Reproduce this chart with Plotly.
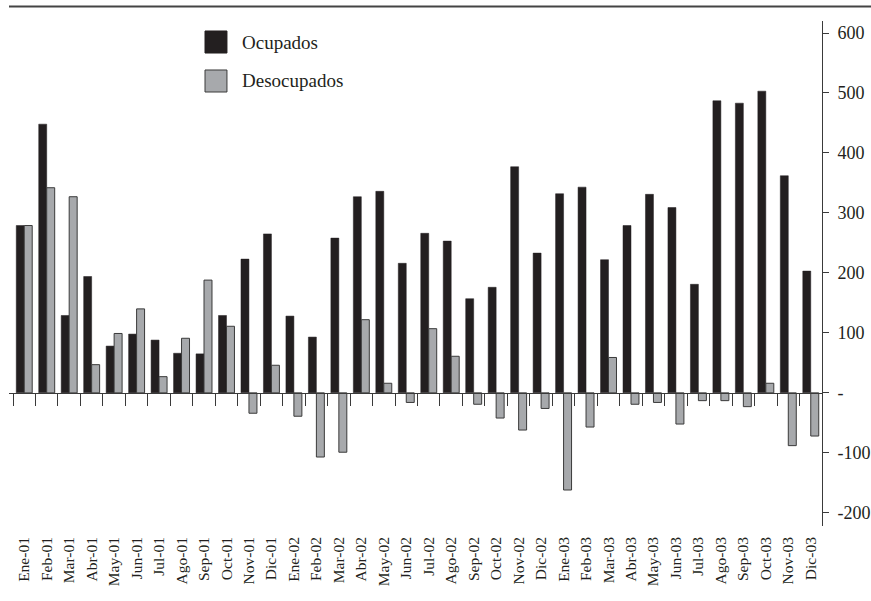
import plotly.graph_objects as go

meses = ["Ene-01","Feb-01","Mar-01","Abr-01","May-01","Jun-01","Jul-01","Ago-01","Sep-01","Oct-01","Nov-01","Dic-01",
         "Ene-02","Feb-02","Mar-02","Abr-02","May-02","Jun-02","Jul-02","Ago-02","Sep-02","Oct-02","Nov-02","Dic-02",
         "Ene-03","Feb-03","Mar-03","Abr-03","May-03","Jun-03","Jul-03","Ago-03","Sep-03","Oct-03","Nov-03","Dic-03"]
ocupados = [279, 448, 129, 194, 78, 98, 88, 66, 65, 129, 223, 265,
            128, 93, 258, 327, 336, 216, 266, 253, 157, 176, 377, 233,
            332, 343, 222, 279, 331, 309, 181, 487, 483, 503, 362, 203]
desocupados = [279, 342, 327, 47, 99, 140, 27, 91, 188, 111, -34, 46,
               -39, -107, -99, 122, 16, -16, 107, 61, -19, -42, -62, -26,
               -162, -57, 59, -19, -16, -52, -13, -13, -23, 16, -88, -72]
y_ticks = [600, 500, 400, 300, 200, 100, 0, -100, -200]
y_ticktext = ["600", "500", "400", "300", "200", "100", "-", "-100", "-200"]

idx = list(range(len(meses)))
FONT = "Liberation Serif"
TXT = "#231f20"

fig = go.Figure()
fig.add_trace(go.Bar(x=idx, y=ocupados, name="Ocupados",
                     marker=dict(color="#231f20", line=dict(color="#231f20", width=0.5))))
fig.add_trace(go.Bar(x=idx, y=desocupados, name="Desocupados",
                     marker=dict(color="#a7a9ac", line=dict(color="#3a3a3a", width=1))))
# invisible trace to activate the zero-line axis
fig.add_trace(go.Scatter(x=[idx[0]], y=[0], xaxis="x2", mode="markers",
                         marker=dict(opacity=0), showlegend=False, hoverinfo="skip"))

yr = [-222, 620]
zero_pos = (0 - yr[0]) / (yr[1] - yr[0])
xr = [-0.678, len(meses) - 0.5]

fig.update_layout(
    width=871, height=601,
    margin=dict(l=9, r=49, t=21, b=75, autoexpand=False),
    paper_bgcolor="white", plot_bgcolor="white",
    barmode="group", bargap=0.29, bargroupgap=0,
    showlegend=False,
    font=dict(family=FONT, color=TXT),
    xaxis=dict(range=xr, tickmode="array", tickvals=idx, ticktext=meses,
               tickangle=-90, tickfont=dict(size=15.5, family=FONT, color=TXT),
               showgrid=False, zeroline=False, showline=False, ticks="",
               ticklabelstandoff=7),
    xaxis2=dict(range=xr, overlaying="x", anchor="free", position=zero_pos,
                showline=True, linecolor="#3a3a3a", linewidth=1,
                tickmode="array", tickvals=[i - 0.5 for i in range(len(meses) + 1)],
                ticks="outside", ticklen=12, tickcolor="#3a3a3a", tickwidth=1,
                showticklabels=False, showgrid=False, zeroline=False),
    yaxis=dict(range=yr, side="right", tickmode="array", tickvals=y_ticks, ticktext=y_ticktext,
               tickfont=dict(size=18, family=FONT, color=TXT),
               showline=True, linecolor="#3a3a3a", linewidth=1,
               ticks="outside", ticklen=6, tickcolor="#3a3a3a",
               showgrid=False, zeroline=False, ticklabelstandoff=5),
)

# top rule
fig.add_shape(type="line", xref="paper", yref="paper", x0=0, x1=1.07, y0=1.0287, y1=1.0287,
              line=dict(color="#444444", width=2))

# legend drawn manually (large squares)
leg = [("Ocupados", "#231f20", "#231f20", 0.9802, 0.9366, 0.9584),
       ("Desocupados", "#a7a9ac", "#3a3a3a", 0.9030, 0.8594, 0.8812)]
for name, fill, edge, ytop, ybot, ymid in leg:
    fig.add_shape(type="rect", xref="paper", yref="paper", x0=0.2411, x1=0.2681, y0=ybot, y1=ytop,
                  fillcolor=fill, line=dict(color=edge, width=1))
    fig.add_annotation(xref="paper", yref="paper", x=0.2841, y=ymid, text=name, showarrow=False,
                       xanchor="left", yanchor="middle", font=dict(size=19, family=FONT, color=TXT))

fig.write_html("out.html", config={"displayModeBar": False},
               post_script="document.body.style.margin='0px';")
